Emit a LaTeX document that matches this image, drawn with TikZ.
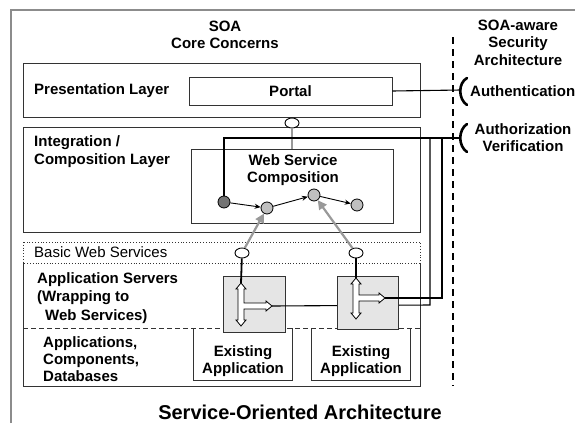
\documentclass[tikz,border=0pt]{standalone}
\usepackage{fontspec}
\setmainfont{Liberation Sans}
\usetikzlibrary{shapes.geometric,arrows.meta}

\tikzset{
  frameline/.style={draw=black!45, line width=1.3pt},
  layerbox/.style={draw=black!80, line width=0.9pt},
  lbl/.style={font=\bfseries\fontsize{15}{17.5}\selectfont, inner sep=0pt},
  plainlbl/.style={font=\fontsize{15}{17.5}\selectfont, inner sep=0pt},
  svcnode/.style={circle, draw=black, line width=0.8pt, fill=black!25, minimum size=12pt, inner sep=0pt},
  startnode/.style={svcnode, fill=black!55},
  port/.style={ellipse, draw=black, line width=0.9pt, fill=white, minimum width=14pt, minimum height=10pt, inner sep=0pt},
  flow/.style={-{Stealth[length=6pt,width=5pt]}, line width=0.9pt},
  wsflow/.style={-{Triangle[length=9pt,width=9pt]}, draw=black!40, line width=2.2pt},
  server/.style={draw=black!80, fill=black!10, line width=0.9pt},
  hollow/.style={draw=black, fill=white, line width=0.8pt},
  bracket/.style={line width=2.6pt, line cap=round},
  thinwire/.style={line width=1.1pt},
  thickwire/.style={line width=1.8pt}
}

% hollow T-shaped arrow: stem x, stem top y, stem bottom y, branch y, branch tip x
\newcommand\hollowtee[5]{%
  \def\hw{3}\def\hh{5}\def\hl{6}%
  \path[hollow] (#1,#2) -- (#1+\hh,#2+\hl) -- (#1+\hw,#2+\hl) -- (#1+\hw,#4-\hw)
    -- (#5-\hl,#4-\hw) -- (#5-\hl,#4-\hh) -- (#5,#4) -- (#5-\hl,#4+\hh) -- (#5-\hl,#4+\hw)
    -- (#1+\hw,#4+\hw) -- (#1+\hw,#3-\hl) -- (#1+\hh,#3-\hl) -- (#1,#3)
    -- (#1-\hh,#3-\hl) -- (#1-\hw,#3-\hl) -- (#1-\hw,#2+\hl) -- (#1-\hh,#2+\hl) -- cycle;}

\begin{document}
\begin{tikzpicture}[x=1pt,y=-1pt]
\useasboundingbox (0,0) rectangle (575,423);

% outer frame (only its left and top edges are in view)
\draw[frameline] (11,423) -- (11,10) -- (575,10);

% column headings
\node[lbl, align=center] (core) at (225,35) {SOA\\Core Concerns};
\node[lbl, align=center] (sec) at (518,42.5) {SOA-aware\\Security\\Architecture};
\draw[line width=1.1pt, dash pattern=on 7pt off 5pt] (453,37) -- (453,386);

% presentation layer
\draw[layerbox] (23,63) rectangle (420,117);
\node[lbl, anchor=west] (presl) at (34,91) {Presentation Layer};
\node[layerbox, minimum width=203pt, minimum height=28pt, inner sep=0pt] (portal) at (290.5,91) {};
\node[lbl] (portalt) at (290.5,91) {Portal};

% integration / composition layer
\draw[layerbox] (23,127) rectangle (420,232);
\node[lbl, anchor=west, align=left] (intl) at (34,151.5) {Integration /\\Composition Layer};
\node[layerbox, minimum width=202pt, minimum height=74pt, inner sep=0pt] (wsc) at (292,186) {};
\node[lbl, align=center] (wsct) at (293,170) {Web Service\\Composition};

% basic web services row and lower block
\draw[draw=black!80, line width=0.8pt, dotted] (23,242) rectangle (420,263);
\node[plainlbl, anchor=west] (bws) at (34,252) {Basic Web Services};
\draw[layerbox] (23,263) -- (23,386) -- (420,386) -- (420,263);
\draw[draw=black!80, line width=0.9pt, dash pattern=on 5pt off 3pt] (23,328) -- (420,328);
\node[lbl, anchor=west, align=left, font=\bfseries\fontsize{15}{18.5}\selectfont] (aps) at (37,298)
  {Application Servers\\(Wrapping to\\\hspace*{8pt}Web Services)};
\node[lbl, anchor=west, align=left, font=\bfseries\fontsize{15}{17}\selectfont] (apc) at (43,359)
  {Applications,\\Components,\\Databases};

% existing applications (top edge is the dashed divider)
\draw[layerbox] (193,328) -- (193,380) -- (292,380) -- (292,328);
\draw[layerbox] (311,328) -- (311,380) -- (410,380) -- (410,328);
\node[lbl, align=center] (ex1) at (243,361) {Existing\\Application};
\node[lbl, align=center] (ex2) at (361,361) {Existing\\Application};

% web service ports
\node[port] (otop) at (292,123) {};
\node[port] (o1) at (242,253) {};
\node[port] (o2) at (356,253) {};
\draw[draw=black!40, line width=1.6pt] (otop) -- (otop |- wsc.north);

% composition nodes
\node[startnode] (d) at (224,202) {};
\node[svcnode] (c1) at (267,208) {};
\node[svcnode] (c2) at (314,195) {};
\node[svcnode] (c3) at (357,205) {};
\draw[flow] (d) -- (c1);
\draw[flow] (c1) -- (c2);
\draw[flow] (c2) -- (c3);
\draw[wsflow] (o1) -- (c1);
\draw[wsflow] (o2) -- (c2);

% security interfaces
\coordinate (authn) at (461,90);
\coordinate (authz) at (461,138);
\draw[bracket] (467,78) .. controls (458,83) and (458,99) .. (467,105);
\draw[bracket] (467,124) .. controls (458,130) and (458,146) .. (467,152);
\node[lbl, anchor=west] (authnt) at (470,91) {Authentication};
\node[lbl, align=center] (authzt) at (523,137.5) {Authorization\\Verification};
\draw[thinwire] (portal.east) -- (authn);
\draw[thickwire] (d.north) |- (authz);

% first application server; its wire runs behind the second one
\draw[server] (223,276) rectangle (285,332);
\hollowtee{241}{283}{326}{306}{272}
\coordinate (tip1) at (272,306);
\draw[thickwire] (o1) -- (241,283);
\draw[thinwire] (tip1) -- (430,305) -- (430,138);

% second application server
\draw[server] (337,276) rectangle (398,329);
\hollowtee{356}{278}{319}{298}{385}
\coordinate (tip2) at (385,298);
\draw[thickwire] (o2) -- (356,278);
\draw[thickwire] (tip2) -- (442,298) -- (442,138);

% caption
\node[lbl, font=\bfseries\fontsize{20}{24}\selectfont] (title) at (300,412) {Service-Oriented Architecture};
\end{tikzpicture}
\end{document}
